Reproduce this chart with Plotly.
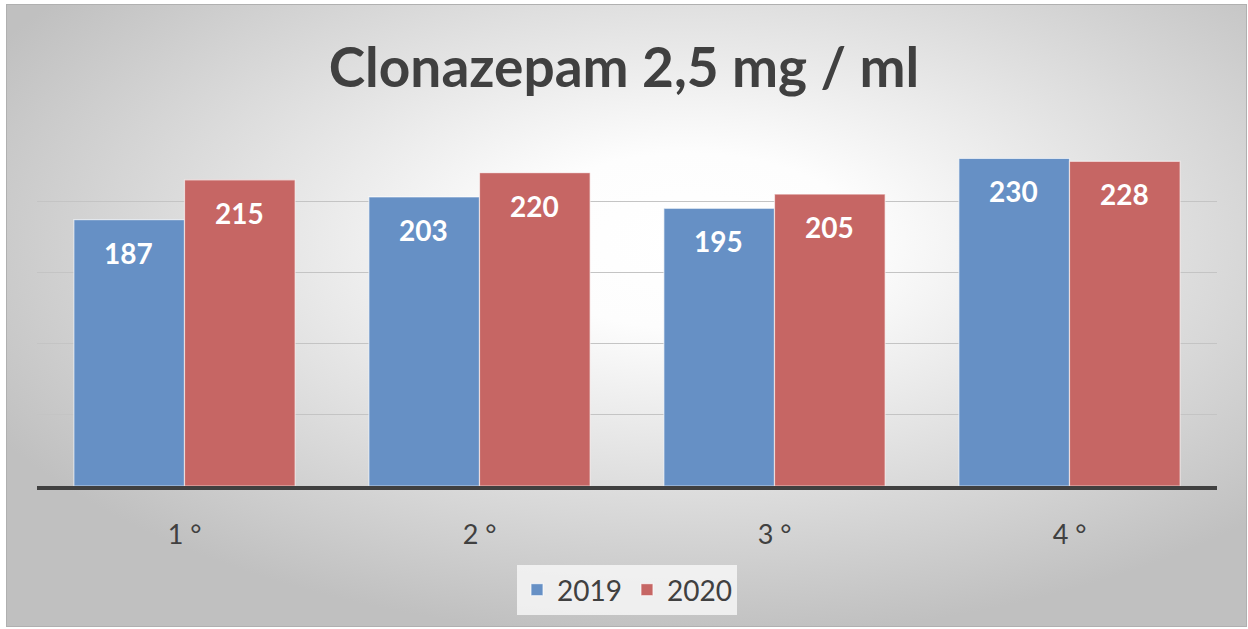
import base64
import plotly.graph_objects as go

categories = ["1 °", "2 °", "3 °", "4 °"]
series_names = ["2019", "2020"]
values_2019 = [187, 203, 195, 230]
values_2020 = [215, 220, 205, 228]
colors = ["#6690C5", "#C66664"]

W, H = 1248, 629
ML, MR, MT, MB = 37, 31, 130, 143
PW, PH = W - ML - MR, H - MT - MB
FONT = "Lato, Open Sans, sans-serif"

svg = f'''<svg xmlns="http://www.w3.org/2000/svg" width="{W}" height="{H}" viewBox="0 0 {W} {H}">
<defs><radialGradient id="g" cx="0.55" cy="0.38" r="0.64" fx="0.55" fy="0.38">
<stop offset="0" stop-color="#ffffff"/><stop offset="0.22" stop-color="#fdfdfd"/>
<stop offset="1" stop-color="#c0c0c0"/></radialGradient></defs>
<rect x="0" y="0" width="{W}" height="{H}" fill="#ffffff"/>
<rect x="6.5" y="4.5" width="{W-8}" height="{H-7}" fill="url(#g)" stroke="#b0b0b0" stroke-width="1"/>
</svg>'''
src = "data:image/svg+xml;base64," + base64.b64encode(svg.encode()).decode()

fig = go.Figure()
for name, vals, col in zip(series_names, [values_2019, values_2020], colors):
    fig.add_trace(go.Bar(
        x=categories, y=vals, name=name,
        marker=dict(color=col, line=dict(color="rgba(255,255,255,0.6)", width=1.2)),
        hoverinfo="x+y",
    ))

annotations = []
for vals, shift in [(values_2019, -56), (values_2020, 55)]:
    for c, v in zip(categories, vals):
        annotations.append(dict(
            x=c, y=v, text=f"<b>{v}</b>", showarrow=False, xshift=shift, yshift=-33,
            font=dict(family=FONT, size=28, color="white"),
        ))

fig.update_layout(
    width=W, height=H,
    margin=dict(l=ML, r=MR, t=MT, b=MB),
    paper_bgcolor="white", plot_bgcolor="rgba(0,0,0,0)",
    title=dict(text="<b>Clonazepam 2,5 mg / ml</b>", x=0.5, xanchor="center",
               y=1 - 68 / H, yanchor="middle",
               font=dict(family=FONT, size=55, color="#404040")),
    barmode="group", bargap=0.25, bargroupgap=0.0,
    showlegend=True,
    legend=dict(orientation="h", x=0.5, xanchor="center", y=-(590 - 486) / PH, yanchor="middle",
                font=dict(family=FONT, size=28, color="#404040"),
                bgcolor="rgba(246,246,246,0.85)", itemwidth=30, traceorder="normal"),
    xaxis=dict(showline=True, linecolor="#404040", linewidth=4, ticks="",
               tickfont=dict(family=FONT, size=27, color="#404040"), ticklabelstandoff=22,
               showgrid=False, zeroline=False),
    yaxis=dict(range=[0, 250], dtick=50, showgrid=True, gridcolor="#c4c4c4", gridwidth=1,
               showticklabels=False, zeroline=False, showline=False),
    annotations=annotations,
    images=[dict(source=src, xref="paper", yref="paper",
                 x=-ML / PW, y=1 + MT / PH, sizex=W / PW, sizey=H / PH,
                 xanchor="left", yanchor="top", sizing="stretch", layer="below")],
)

fig.write_html("out.html", config={"displayModeBar": False},
               post_script="document.body.style.margin='0';document.body.style.overflow='hidden';")
